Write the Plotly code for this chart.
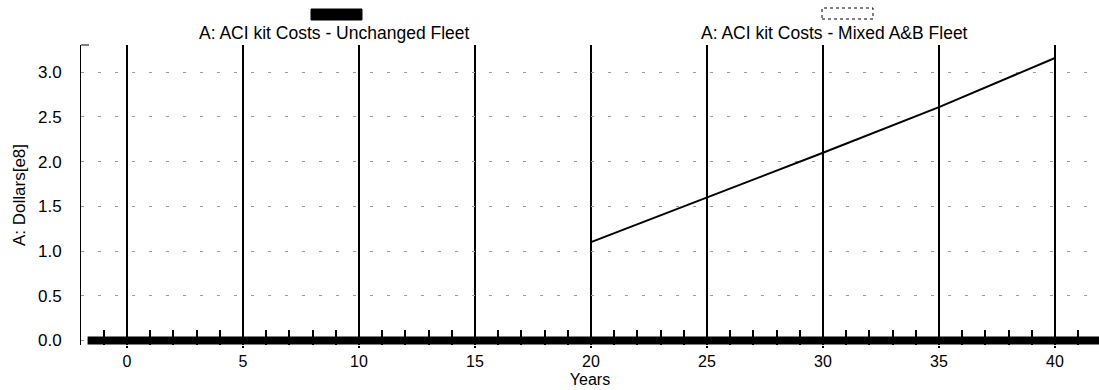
import plotly.graph_objects as go

# ---- data ----
years_unchanged = [-1.7, 42.0]
cost_unchanged = [0.0, 0.0]
years_mixed = [20, 25, 30, 35, 40]
cost_mixed = [1.10, 1.60, 2.10, 2.61, 3.16]
x_ticks = [0, 5, 10, 15, 20, 25, 30, 35, 40]
y_ticks = [0.0, 0.5, 1.0, 1.5, 2.0, 2.5, 3.0]
y_tick_text = ["0.0", "0.5", "1.0", "1.5", "2.0", "2.5", "3.0"]
series_names = ["A: ACI kit Costs - Unchanged Fleet", "A: ACI kit Costs - Mixed A&B Fleet"]

W, H = 1099, 390
ML, MR, MT, MB = 81, 0, 45, 45
PW = W - ML - MR
PH = H - MT - MB

def px(xp):
    return (xp - ML) / PW

def py(yp):
    return (H - MB - yp) / PH

FONT = "Liberation Sans, Arial, sans-serif"
FS = 17

fig = go.Figure()
fig.add_trace(go.Scatter(x=years_unchanged, y=cost_unchanged, mode="lines",
                         line=dict(color="black", width=8), name=series_names[0],
                         showlegend=False))
fig.add_trace(go.Scatter(x=years_mixed, y=cost_mixed, mode="lines",
                         line=dict(color="black", width=2), name=series_names[1],
                         showlegend=False))

shapes = [
    # legend symbols
    dict(type="rect", xref="paper", yref="paper", x0=px(311), x1=px(362), y0=py(20), y1=py(9),
         fillcolor="black", line=dict(color="black", width=1)),
    dict(type="rect", xref="paper", yref="paper", x0=px(822), x1=px(873), y0=py(19), y1=py(8),
         fillcolor="white", line=dict(color="black", width=1, dash="dot")),
    # top cap of y axis
    dict(type="line", xref="paper", yref="paper", x0=px(81), x1=px(89), y0=py(45), y1=py(45),
         line=dict(color="black", width=1)),
]

annotations = [
    dict(text=series_names[0], xref="paper", yref="paper", x=px(334), y=py(33),
         xanchor="center", yanchor="middle", showarrow=False,
         font=dict(family=FONT, size=17.5, color="black")),
    dict(text=series_names[1], xref="paper", yref="paper", x=px(834), y=py(33),
         xanchor="center", yanchor="middle", showarrow=False,
         font=dict(family=FONT, size=17.5, color="black")),
]

fig.update_layout(
    width=W, height=H,
    margin=dict(l=ML, r=MR, t=MT, b=MB, pad=0),
    paper_bgcolor="white", plot_bgcolor="white",
    font=dict(family=FONT, size=FS, color="black"),
    showlegend=False,
    shapes=shapes,
    annotations=annotations,
    xaxis=dict(
        range=[-1.983, 41.897],
        tickmode="array", tickvals=x_ticks, ticktext=[str(v) for v in x_ticks],
        ticks="outside", ticklen=2, tickwidth=1.5, tickcolor="black",
        showgrid=True, gridcolor="black", gridwidth=1.5,
        zeroline=False, showline=False,
        minor=dict(dtick=1, ticks="inside", ticklen=15, tickwidth=1.5, tickcolor="black", showgrid=False),
        title=dict(text="Years", standoff=4, font=dict(size=16)),
        tickfont=dict(size=16),
    ),
    yaxis=dict(
        range=[-0.0503, 3.305],
        tickmode="array", tickvals=y_ticks, ticktext=y_tick_text,
        ticks="", showgrid=True, gridcolor="#9a9a9a", gridwidth=1, griddash="3px,14px",
        zeroline=False, showline=True, linecolor="black", linewidth=1,
        ticklabelstandoff=15,
        title=dict(text="A: Dollars[e8]", standoff=8, font=dict(size=FS)),
        tickfont=dict(size=FS),
    ),
)

fig.write_html("out.html")
